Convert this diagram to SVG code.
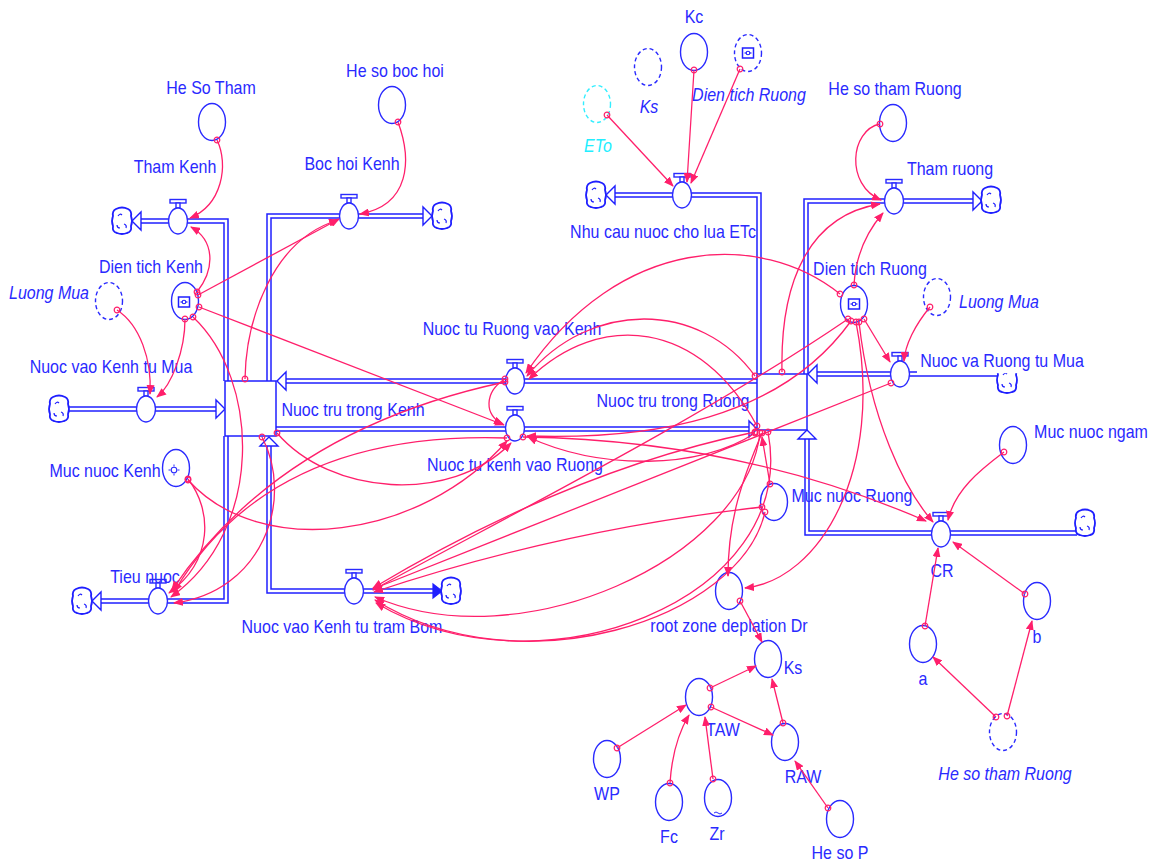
<svg xmlns="http://www.w3.org/2000/svg" width="1159" height="864" viewBox="0 0 1159 864">
<style>
.b{fill:#fff;stroke:#2a2aff;stroke-width:1.4}
.sh{fill:#fff;stroke:#2a2aff;stroke-width:1.4;stroke-dasharray:4 3}
.shc{fill:#fff;stroke:#33eeff;stroke-width:1.4;stroke-dasharray:4 3}
.t{font-family:"Liberation Sans",Arial,sans-serif;font-size:16px;fill:#2a2aff;text-anchor:middle}
.i{font-style:italic}
.cy{fill:#22eeff}
.po{fill:none;stroke:#1f1fff;stroke-width:5.5;stroke-linejoin:miter}
.pi{fill:none;stroke:#fff;stroke-width:2.5;stroke-linejoin:miter}
.ar{fill:#fff;stroke:#1f1fff;stroke-width:1.4}
.bx{fill:#fff;stroke:#1f1fff;stroke-width:1.5}
.cl{fill:#fff;stroke:#1f1fff;stroke-width:1.8}
.cld{fill:none;stroke:#1f1fff;stroke-width:1.2}
.lk{fill:none;stroke:#ff1f6b;stroke-width:1.3;marker-start:url(#tc);marker-end:url(#ah)}
</style>
<defs>
<marker id="ah" viewBox="0 0 10 8" refX="9" refY="4" markerWidth="10" markerHeight="8" markerUnits="userSpaceOnUse" orient="auto"><path d="M0,0 L10,4 L0,8 z" fill="#ff1f6b"/></marker>
<marker id="tc" viewBox="0 0 8 8" refX="4" refY="4" markerWidth="8" markerHeight="8" markerUnits="userSpaceOnUse"><circle cx="4" cy="4" r="2.8" fill="none" stroke="#ff1f6b" stroke-width="1.2"/></marker>
<g id="valve"><rect class="b" x="-8" y="-21.5" width="16" height="3.5"/><rect class="b" x="-2" y="-18" width="4" height="5"/><ellipse class="b" rx="9.5" ry="13"/></g>
<g id="cloud"><path class="cl" d="M-6,-12 Q0,-15 6,-12 Q10,-10 9,-5 Q11,0 9,5 Q10,11 5,12 Q0,14 -5,12 Q-10,11 -9,5 Q-11,0 -9,-5 Q-10,-10 -6,-12 Z"/><path class="cld" d="M-4,-5 q2,-3 4,-1 M2,3 q3,1 2,4 M-5,4 q0,3 3,3"/></g>
<g id="dicon"><rect x="-5.5" y="-5" width="11" height="10" fill="#fff" stroke="#1f1fff" stroke-width="1.5"/><path d="M-3.5,0 H3.5" stroke="#1f1fff" stroke-width="1.2"/><circle r="1.8" fill="#fff" stroke="#1f1fff" stroke-width="1.1"/></g>
</defs>
<rect width="1159" height="864" fill="#fff"/>

<g id="flows">
<path class="po" d="M140,221 L226,221 L226,381"/><path class="pi" d="M140,221 L226,221 L226,381"/>
<path class="po" d="M269,381 L269,216 L424,216"/><path class="pi" d="M269,381 L269,216 L424,216"/>
<path class="po" d="M68,409 L217,409"/><path class="pi" d="M68,409 L217,409"/>
<path class="po" d="M100,601 L226,601 L226,436"/><path class="pi" d="M100,601 L226,601 L226,436"/>
<path class="po" d="M269,445 L269,591 L434,591"/><path class="pi" d="M269,445 L269,591 L434,591"/>
<path class="po" d="M757,381 L285,381"/><path class="pi" d="M757,381 L285,381"/>
<path class="po" d="M276,429 L749,429"/><path class="pi" d="M276,429 L749,429"/>
<path class="po" d="M614,195 L759,195 L759,374"/><path class="pi" d="M614,195 L759,195 L759,374"/>
<path class="po" d="M806,374 L806,201 L974,201"/><path class="pi" d="M806,374 L806,201 L974,201"/>
<path class="po" d="M1000,374 L816,374"/><path class="pi" d="M1000,374 L816,374"/>
<path class="po" d="M1077,533 L807,533 L807,438"/><path class="pi" d="M1077,533 L807,533 L807,438"/>
<polygon class="ar" points="132,221 141,212 141,230"/>
<polygon class="ar" points="432,216 423,207 423,225"/>
<polygon class="ar" points="225,409 216,400 216,418"/>
<polygon class="ar" points="92,601 101,592 101,610"/>
<polygon points="442,591 433,584 433,598" fill="#1f1fff" stroke="#1f1fff" stroke-width="1.2"/>
<polygon class="ar" points="269,437 260,446 278,446"/>
<polygon class="ar" points="277,381 286,372 286,390"/>
<polygon class="ar" points="757,429 749,421 749,437"/>
<polygon class="ar" points="606,195 615,186 615,204"/>
<polygon class="ar" points="982,201 973,192 973,210"/>
<polygon class="ar" points="808,374 817,365 817,383"/>
<polygon class="ar" points="807,430 798,439 816,439"/>
<use href="#cloud" x="122" y="221"/>
<use href="#cloud" x="442" y="216"/>
<use href="#cloud" x="59" y="409"/>
<use href="#cloud" x="82" y="601"/>
<use href="#cloud" x="451" y="591"/>
<use href="#cloud" x="596" y="195"/>
<use href="#cloud" x="991" y="200"/>
<use href="#cloud" x="1007" y="380"/>
<use href="#cloud" x="1085" y="523"/>
</g>

<g id="stock-kenh"><rect class="bx" x="225" y="381" width="51" height="55"/><text class="t" transform="translate(353 416) scale(1 1.15)">Nuoc tru trong Kenh</text></g>
<g id="stock-ruong"><rect class="bx" x="757" y="374" width="50" height="56"/><text class="t" transform="translate(673 407) scale(1 1.15)">Nuoc tru trong Ruong</text></g>

<g id="he-so-tham"><ellipse class="b" cx="212" cy="122" rx="13.5" ry="18.5"/><text class="t" transform="translate(211 94) scale(1 1.15)">He So Tham</text></g>
<g id="he-so-boc-hoi"><ellipse class="b" cx="392" cy="105" rx="13.5" ry="18.5"/><text class="t" transform="translate(395 77) scale(1 1.15)">He so boc hoi</text></g>
<g id="tham-kenh"><use href="#valve" x="178" y="221"/><text class="t" transform="translate(175 173) scale(1 1.15)">Tham Kenh</text></g>
<g id="boc-hoi-kenh"><use href="#valve" x="349" y="216"/><text class="t" transform="translate(352 170) scale(1 1.15)">Boc hoi Kenh</text></g>
<g id="dien-tich-kenh"><ellipse class="b" cx="185" cy="301" rx="13.5" ry="18.5"/><use href="#dicon" x="184" y="302"/><text class="t" transform="translate(151 273) scale(1 1.15)">Dien tich Kenh</text></g>
<g id="luong-mua-kenh"><ellipse class="sh" cx="109" cy="301" rx="13.5" ry="18.5"/><text class="t i" transform="translate(49 299) scale(1 1.15)">Luong Mua</text></g>
<g id="nuoc-vao-kenh-tu-mua"><use href="#valve" x="146" y="409"/><text class="t" transform="translate(111 373) scale(1 1.15)">Nuoc vao Kenh tu Mua</text></g>
<g id="muc-nuoc-kenh"><ellipse class="b" cx="176" cy="468" rx="13.5" ry="18.5"/><circle cx="174" cy="470" r="2.8" fill="none" stroke="#2a2aff" stroke-width="1.1"/><path d="M174,464.5v2 M174,473.5v2 M168.5,470h2 M177.5,470h2" stroke="#2a2aff" stroke-width="1"/><text class="t" transform="translate(105 477) scale(1 1.15)">Muc nuoc Kenh</text></g>
<g id="tieu-nuoc"><use href="#valve" x="158" y="601"/><text class="t" transform="translate(145 583) scale(1 1.15)">Tieu nuoc</text></g>
<g id="nuoc-vao-kenh-tu-tram-bom"><use href="#valve" x="354" y="591"/><text class="t" transform="translate(342 633) scale(1 1.15)">Nuoc vao Kenh tu tram Bom</text></g>
<g id="nuoc-tu-ruong-vao-kenh"><use href="#valve" x="515" y="381"/><text class="t" transform="translate(512 335) scale(1 1.15)">Nuoc tu Ruong vao Kenh</text></g>
<g id="nuoc-tu-kenh-vao-ruong"><use href="#valve" x="515" y="428"/><text class="t" transform="translate(515 471) scale(1 1.15)">Nuoc tu kenh vao Ruong</text></g>
<g id="kc"><ellipse class="b" cx="694" cy="52" rx="13.5" ry="18.5"/><text class="t" transform="translate(694 23) scale(1 1.15)">Kc</text></g>
<g id="ks-shadow"><ellipse class="sh" cx="648" cy="67" rx="13.5" ry="18.5"/><text class="t i" transform="translate(649 113) scale(1 1.15)">Ks</text></g>
<g id="dien-tich-ruong-shadow"><ellipse class="sh" cx="748" cy="53" rx="13.5" ry="18.5"/><use href="#dicon" x="748" y="53"/><text class="t i" transform="translate(749 101) scale(1 1.15)">Dien tich Ruong</text></g>
<g id="eto"><ellipse class="shc" cx="597" cy="104" rx="13.5" ry="18.5"/><text class="t i cy" transform="translate(598 152) scale(1 1.15)">ETo</text></g>
<g id="nhu-cau-nuoc"><use href="#valve" x="682" y="195"/><text class="t" transform="translate(663 238) scale(1 1.15)">Nhu cau nuoc cho lua ETc</text></g>
<g id="he-so-tham-ruong"><ellipse class="b" cx="893" cy="123" rx="13.5" ry="18.5"/><text class="t" transform="translate(895 95) scale(1 1.15)">He so tham Ruong</text></g>
<g id="tham-ruong"><use href="#valve" x="894" y="201"/><text class="t" transform="translate(950 175) scale(1 1.15)">Tham ruong</text></g>
<g id="dien-tich-ruong"><ellipse class="b" cx="854" cy="304" rx="13.5" ry="18.5"/><use href="#dicon" x="854" y="304"/><text class="t" transform="translate(870 275) scale(1 1.15)">Dien tich Ruong</text></g>
<g id="luong-mua-ruong"><ellipse class="sh" cx="937" cy="297" rx="13.5" ry="18.5"/><text class="t i" transform="translate(999 308) scale(1 1.15)">Luong Mua</text></g>
<g id="nuoc-va-ruong-tu-mua"><rect x="917" y="350" width="170" height="23.2" fill="#fff"/><use href="#valve" x="900" y="374"/><text class="t" transform="translate(1002 367) scale(1 1.15)">Nuoc va Ruong tu Mua</text></g>
<g id="muc-nuoc-ruong"><ellipse class="b" cx="774" cy="502" rx="13.5" ry="18.5"/><text class="t" transform="translate(852 502) scale(1 1.15)">Muc nuoc Ruong</text></g>
<g id="muc-nuoc-ngam"><ellipse class="b" cx="1013" cy="445" rx="13.5" ry="18.5"/><text class="t" transform="translate(1091 438) scale(1 1.15)">Muc nuoc ngam</text></g>
<g id="cr"><use href="#valve" x="941" y="534"/><text class="t" transform="translate(942 577) scale(1 1.15)">CR</text></g>
<g id="b"><ellipse class="b" cx="1037" cy="601" rx="13.5" ry="18.5"/><text class="t" transform="translate(1037 643) scale(1 1.15)">b</text></g>
<g id="a"><ellipse class="b" cx="923" cy="644" rx="13.5" ry="18.5"/><text class="t" transform="translate(923 685) scale(1 1.15)">a</text></g>
<g id="he-so-tham-ruong-shadow"><ellipse class="sh" cx="1003" cy="732" rx="13.5" ry="18.5"/><text class="t i" transform="translate(1005 780) scale(1 1.15)">He so tham Ruong</text></g>
<g id="root-zone"><ellipse class="b" cx="729" cy="591" rx="13.5" ry="18.5"/><text class="t" transform="translate(729 632) scale(1 1.15)">root zone deplation Dr</text></g>
<g id="ks"><ellipse class="b" cx="768" cy="659" rx="13.5" ry="18.5"/><text class="t" transform="translate(793 674) scale(1 1.15)">Ks</text></g>
<g id="taw"><ellipse class="b" cx="699" cy="697" rx="13.5" ry="18.5"/><text class="t" transform="translate(723 736) scale(1 1.15)">TAW</text></g>
<g id="raw"><ellipse class="b" cx="785" cy="742" rx="13.5" ry="18.5"/><text class="t" transform="translate(803 783) scale(1 1.15)">RAW</text></g>
<g id="wp"><ellipse class="b" cx="607" cy="759" rx="13.5" ry="18.5"/><text class="t" transform="translate(607 800) scale(1 1.15)">WP</text></g>
<g id="fc"><ellipse class="b" cx="669" cy="802" rx="13.5" ry="18.5"/><text class="t" transform="translate(669 843) scale(1 1.15)">Fc</text></g>
<g id="zr"><ellipse class="b" cx="718" cy="798" rx="13.5" ry="18.5"/><path d="M714,813 q2,-2 4,0 t4,0" fill="none" stroke="#2a2aff" stroke-width="1"/><text class="t" transform="translate(717 840) scale(1 1.15)">Zr</text></g>
<g id="he-so-p"><ellipse class="b" cx="840" cy="819" rx="13.5" ry="18.5"/><text class="t" transform="translate(840 859) scale(1 1.15)">He so P</text></g>

<g id="connectors">
<path class="lk" d="M217,140 C229,165 222,205 190,218"/>
<path class="lk" d="M197,292 C216,268 214,240 191,227"/>
<path class="lk" d="M245,379 C246,320 272,240 338,220"/>
<path class="lk" d="M198,295 L339,219"/>
<path class="lk" d="M398,122 C412,160 410,205 360,214"/>
<path class="lk" d="M117,310 C140,325 152,360 150,394"/>
<path class="lk" d="M185,319 C185,350 172,385 157,397"/>
<path class="lk" d="M199,307 L504,425"/>
<path class="lk" d="M193,317 C260,380 265,530 171,597"/>
<path class="lk" d="M188,479 C212,510 214,560 169,593"/>
<path class="lk" d="M188,480 C260,560 420,540 507,441"/>
<path class="lk" d="M277,433 C330,495 450,505 511,443"/>
<path class="lk" d="M262,437 C295,500 262,592 174,603"/>
<path class="lk" d="M505,382 Q280,430 172,590"/>
<path class="lk" d="M507,438 Q270,430 174,592"/>
<path class="lk" d="M505,379 C484,392 484,416 503,424"/>
<path class="lk" d="M694,70 L687,182"/>
<path class="lk" d="M740,69 L691,183"/>
<path class="lk" d="M607,115 L673,186"/>
<path class="lk" d="M880,124 C850,130 845,185 881,200"/>
<path class="lk" d="M854,285 C856,250 870,228 883,213"/>
<path class="lk" d="M782,372 C780,280 810,215 880,204"/>
<path class="lk" d="M840,294 C760,230 620,235 526,373"/>
<path class="lk" d="M755,376 C700,300 590,300 527,376"/>
<path class="lk" d="M757,426 C700,320 600,310 529,379"/>
<path class="lk" d="M930,307 C915,325 905,345 904,361"/>
<path class="lk" d="M864,319 L890,362"/>
<path class="lk" d="M859,322 C870,420 905,490 933,522"/>
<path class="lk" d="M856,322 C885,470 820,580 745,588"/>
<path class="lk" d="M848,319 C700,420 500,520 373,590"/>
<path class="lk" d="M851,321 C780,420 650,440 527,436"/>
<path class="lk" d="M1004,452 C980,470 955,490 948,520"/>
<path class="lk" d="M925,626 L938,548"/>
<path class="lk" d="M1025,594 L953,542"/>
<path class="lk" d="M996,717 L933,657"/>
<path class="lk" d="M1007,716 L1032,621"/>
<path class="lk" d="M740,601 L762,642"/>
<path class="lk" d="M710,688 L756,666"/>
<path class="lk" d="M711,707 L773,735"/>
<path class="lk" d="M783,723 L772,679"/>
<path class="lk" d="M828,808 L795,761"/>
<path class="lk" d="M617,748 L686,705"/>
<path class="lk" d="M670,783 C672,752 680,730 689,715"/>
<path class="lk" d="M713,779 L705,717"/>
<path class="lk" d="M762,433 C742,480 728,520 728,576"/>
<path class="lk" d="M523,437 Q740,440 926,521"/>
<path class="lk" d="M891,383 L373,589"/>
<path class="lk" d="M755,432 Q570,470 373,588"/>
<path class="lk" d="M762,507 Q560,530 374,592"/>
<path class="lk" d="M760,433 C745,560 520,660 375,597"/>
<path class="lk" d="M765,512 C740,620 520,690 375,600"/>
<path class="lk" d="M770,484 L762,437"/>
<path class="lk" d="M755,433 C700,470 600,470 528,437"/>
<path class="lk" d="M768,432 C800,600 540,700 376,603"/>
</g>
</svg>
